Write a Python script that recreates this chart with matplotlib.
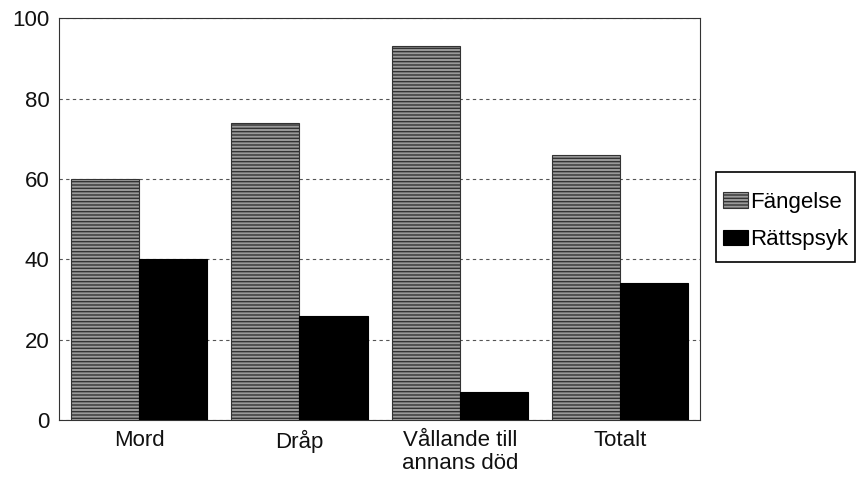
import matplotlib.pyplot as plt
import matplotlib.patches as mpatches
import numpy as np

plt.rcParams['font.family'] = ['Liberation Sans', 'DejaVu Sans']
plt.rcParams['hatch.color'] = '#222222'
plt.rcParams['hatch.linewidth'] = 1.0

# Data
kategorier = ["Mord", "Dråp", "Vållande till\nannans död", "Totalt"]
fangelse = [60, 74, 93, 66]
rattspsyk = [40, 26, 7, 34]

W, H = 858, 478
fig = plt.figure(figsize=(W / 100, H / 100), dpi=100)
ax = fig.add_axes([0.0688, 0.1213, 0.7472, 0.8407])

x = np.arange(len(kategorier))
b = 0.425

ax.bar(x - b / 2, fangelse, b, color="#9a9a9a", edgecolor="#333333",
       hatch="-----", linewidth=0.8, label="Fängelse", zorder=3)
ax.bar(x + b / 2, rattspsyk, b, color="black", edgecolor="black",
       linewidth=0.8, label="Rättspsyk", zorder=3)

ax.set_xlim(-0.5, len(kategorier) - 0.5)
ax.set_ylim(0, 100)
ax.set_yticks([0, 20, 40, 60, 80, 100])
ax.set_xticks(x)
ax.set_xticklabels(kategorier, linespacing=1.15)
ax.tick_params(length=0, labelsize=16, pad=7, labelcolor="#111111")
ax.grid(axis="y", linestyle=(0, (3, 3)), color="#555555", linewidth=0.8, zorder=0)

for s in ax.spines.values():
    s.set_color("#333333")
    s.set_linewidth(0.8)

# legend without own frame, box drawn separately (more vertical padding)
leg = fig.legend(loc="center left", bbox_to_anchor=(716 / W, 1 - 221 / H),
                 fontsize=16, frameon=False,
                 handlelength=1.15, handleheight=0.7, handletextpad=0.1,
                 borderpad=0.3, borderaxespad=0, labelspacing=0.75)
ram = mpatches.Rectangle((716 / W, 1 - 262 / H), 139 / W, 90 / H,
                         transform=fig.transFigure, fill=False,
                         edgecolor="black", linewidth=1.2)
fig.add_artist(ram)

fig.savefig("out.png", dpi=100)
